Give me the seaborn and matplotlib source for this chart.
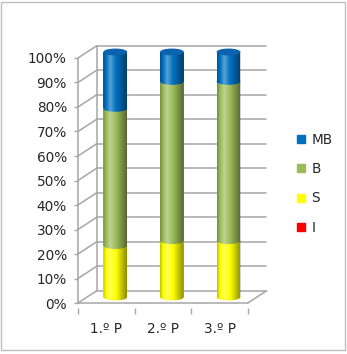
import numpy as np
import pandas as pd
import seaborn as sns
import matplotlib
matplotlib.use("Agg")
import matplotlib.pyplot as plt
from matplotlib.patches import Ellipse, PathPatch, Rectangle
from matplotlib.path import Path
from matplotlib.transforms import ScaledTranslation
from matplotlib.lines import Line2D

periodos = ["1.º P", "2.º P", "3.º P"]
series = ["I", "S", "B", "MB"]
val_I = [0.0, 0.0, 0.0]
val_S = [0.21, 0.23, 0.23]
val_B = [0.56, 0.65, 0.65]
val_MB = [0.23, 0.12, 0.12]
cores = {"I": "#FF0000", "S": "#FFFF00", "B": "#9BBB59", "MB": "#0070C0"}
yticks = np.arange(0, 1.01, 0.1)

sns.set_style("white")
plt.rcParams['font.family'] = ['DejaVu Sans']

df = pd.DataFrame({"periodo": periodos, "I": val_I, "S": val_S, "B": val_B, "MB": val_MB})
# cumulative tops of each layer
cum = df[series].cumsum(axis=1)

fig = plt.figure(figsize=(3.47, 3.54), dpi=100)
fig.patches.append(Rectangle((0.004, 0.01), 0.99, 0.985, transform=fig.transFigure,
                             fill=False, edgecolor="#BFBFBF", lw=1.0))
ax = fig.add_axes([0.2248, 0.1302, 0.5432, 0.7475])

# 3d depth offsets (front plane -> back wall)
dx, dy = 0.33, 0.05
mid = ax.transData + ScaledTranslation(9.0 / 100, 6.0 / 100, fig.dpi_scale_trans)
bw = 0.42
eh = 0.028

# draw from the total down so lower layers cover the upper ones
n0 = len(ax.patches)
for s in series[::-1]:
    sns.barplot(data=cum, x=df["periodo"], y=cum[s], color=cores[s], width=bw,
                saturation=1, ax=ax, zorder=2)
for p in ax.patches[n0:]:
    p.set_transform(mid)
    p.set_linewidth(0)

# segment boundaries (front arc of each segment's bottom)
for i in range(len(periodos)):
    base = 0.0
    for s in ["S", "B", "MB"]:
        v = df.loc[i, s]
        if v > 0:
            e = Ellipse((i, base), bw, eh, facecolor=cores[s], edgecolor="none", zorder=2.5)
            e.set_transform(mid)
            ax.add_patch(e)
        base += v

# cylinder shading
t = np.linspace(0, 1, 60)
shade = np.interp(t, [0, 0.3, 0.55, 1], [-0.25, 0.35, 0.0, -0.45])
grad = np.zeros((1, len(t), 4))
grad[0, :, :3] = np.where(shade[:, None] > 0, 1.0, 0.0)
grad[0, :, 3] = np.abs(shade)
for i in range(len(periodos)):
    top = cum.loc[i, "MB"]
    th = np.linspace(np.pi, 2 * np.pi, 40)
    xs = list(i + bw / 2 * np.cos(th)) + [i + bw / 2, i - bw / 2]
    ys = list(eh / 2 * np.sin(th)) + [top, top]
    clip = PathPatch(Path(np.column_stack([xs, ys])), transform=mid)
    im = ax.imshow(grad, extent=(i - bw / 2, i + bw / 2, -eh, top), aspect="auto",
                   zorder=3, transform=mid, interpolation="bilinear")
    im.set_clip_path(clip)
    cap = Ellipse((i, top), bw, eh, facecolor="#0C62AE", edgecolor="none", zorder=3.5)
    cap.set_transform(mid)
    ax.add_patch(cap)

# walls and grid
gc = "#A6A6A6"
lw = 1.1
for y in yticks:
    ax.plot([-0.5 + dx, 2.5 + dx], [y + dy, y + dy], color=gc, lw=lw, zorder=1, clip_on=False)
    ax.plot([-0.5, -0.5 + dx], [y, y + dy], color=gc, lw=lw, zorder=1, clip_on=False)
ax.plot([-0.5, -0.5], [0, 1], color=gc, lw=lw, zorder=1, clip_on=False)
ax.plot([-0.5 + dx, -0.5 + dx], [dy, 1 + dy], color=gc, lw=lw, zorder=1, clip_on=False)
ax.plot([-0.5, 2.5], [0, 0], color=gc, lw=lw, zorder=1, clip_on=False)
ax.plot([2.5, 2.5 + dx], [0, dy], color=gc, lw=lw, zorder=1, clip_on=False)

for sp in ax.spines.values():
    sp.set_visible(False)
ax.set_xlim(-0.5, 2.5 + dx)
ax.set_ylim(-0.02, 1.06)
ax.set_yticks(yticks)
ax.set_yticklabels([f"{int(round(v * 100))}%" for v in yticks])
ax.set_xticks(range(len(periodos)))
ax.set_xticklabels(periodos)
ax.set_xticks([-0.5, 0.5, 1.5, 2.5], minor=True)
ax.tick_params(axis="y", length=3, width=1, color=gc, pad=5, labelsize=9.8, left=True)
ax.tick_params(axis="x", which="major", length=0, pad=10, labelsize=9.8)
ax.tick_params(axis="x", which="minor", length=4, width=1, color=gc, bottom=True)
ax.set_xlabel("")
ax.set_ylabel("")
ax.grid(False)

handles = [Line2D([], [], marker="s", linestyle="none", markersize=6,
                  markerfacecolor=cores[s], markeredgecolor=cores[s]) for s in series[::-1]]
fig.legend(handles, series[::-1], loc="upper left", bbox_to_anchor=(0.84, 0.64),
           frameon=False, fontsize=9.8, handlelength=0.6, handletextpad=0.45,
           labelspacing=1.12, borderaxespad=0)

fig.savefig("out.png", dpi=100)
